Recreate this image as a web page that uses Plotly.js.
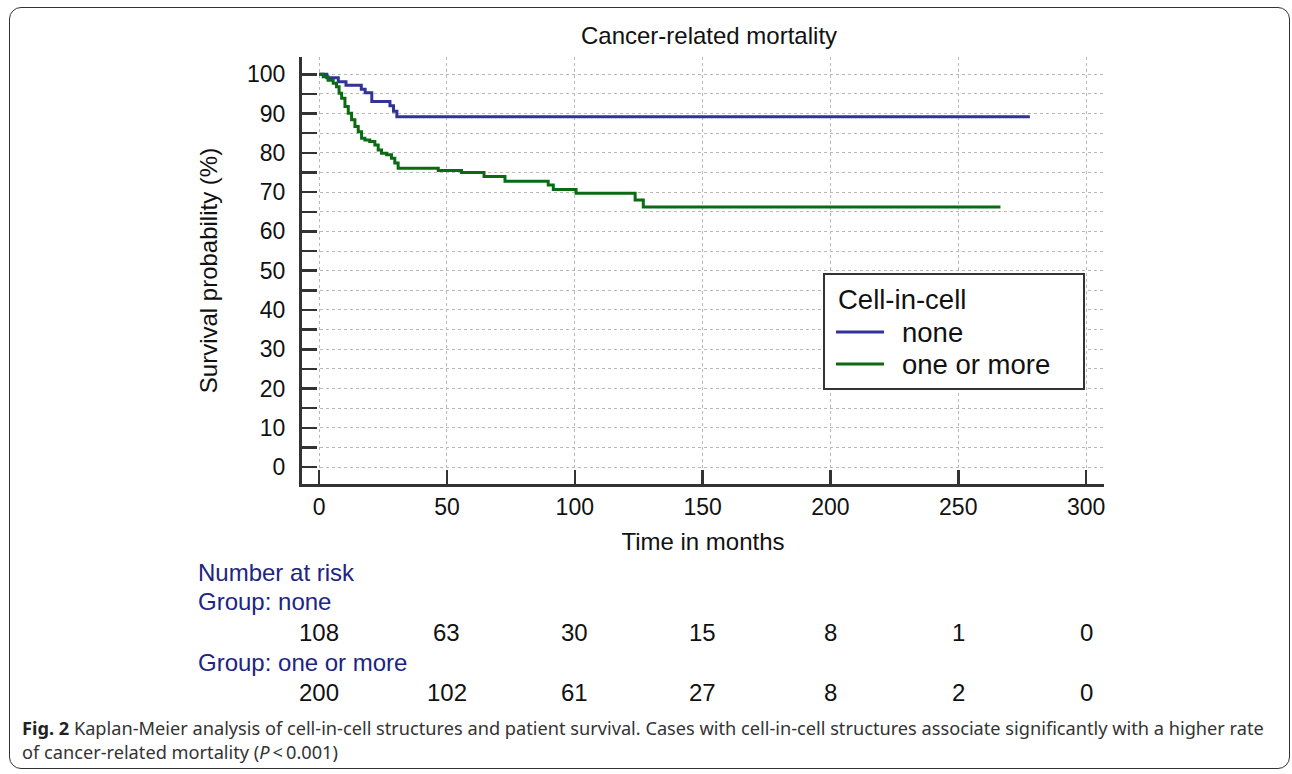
<!DOCTYPE html>
<html>
<head>
<meta charset="utf-8">
<script src="https://cdn.plot.ly/plotly-3.0.1.min.js"></script>
<style>
  html, body { margin:0; padding:0; background:#fff; width:1292px; height:774px; overflow:hidden; }
  #frame { position:absolute; left:9px; top:7px; width:1281px; height:762px; border:1.6px solid #333; border-radius:12px; box-sizing:border-box; pointer-events:none; }
  #chart { position:absolute; left:0; top:0; width:1292px; height:774px; }
  #caption { position:absolute; left:22px; top:716px; width:1266px; font-family:"Noto Sans", sans-serif; font-size:18.2px; line-height:24px; color:#333; white-space:nowrap; }
  #caption b { color:#222; }
</style>
</head>
<body>
<div id="chart"></div>
<div id="frame"></div>
<div id="caption"><b>Fig. 2</b> Kaplan-Meier analysis of cell-in-cell structures and patient survival. Cases with cell-in-cell structures associate significantly with a higher rate<br>of cancer-related mortality (<i>P</i>&thinsp;&lt;&thinsp;0.001)</div>
<script>
// Kaplan-Meier step data (months, survival %)
const noneTime = [0, 3, 7.5, 10.5, 16.5, 18, 20.6, 27.7, 29.1, 30.4, 278];
const noneSurv = [100, 99.1, 98.1, 97.2, 96.2, 95.3, 93.1, 92.0, 90.6, 89.2, 89.2];

const oneTime = [0, 1.6, 3.5, 5.5, 6.8, 7.8, 8.8, 10.1, 11.4, 12.7, 14.0, 15.3, 16.6, 17.9, 19.8, 21.8, 23.1, 24.4, 26.4, 28.3, 29.6, 30.9, 46.6, 55.7, 64.5, 72.7, 89.6, 91.6, 100.5, 123.6, 126.8, 266.5];
const oneSurv = [100, 99.4, 98.5, 97.7, 96.8, 95.2, 93.9, 91.8, 90.1, 88.4, 86.7, 85.4, 83.7, 83.3, 82.9, 82.0, 80.7, 79.9, 79.5, 78.6, 77.4, 76.1, 75.5, 75.0, 74.0, 72.8, 71.8, 70.7, 69.7, 68.0, 66.2, 66.2];

// Number at risk table
const riskTimes = [0, 50, 100, 150, 200, 250, 300];
const riskNone = [108, 63, 30, 15, 8, 1, 0];
const riskOne = [200, 102, 61, 27, 8, 2, 0];

const groupNames = ["none", "one or more"];
const legendTitle = "Cell-in-cell";
const yTickVals = [0, 10, 20, 30, 40, 50, 60, 70, 80, 90, 100];

const blue = "#31339a";
const green = "#0b6b12";
const navy = "#1d2483";
const FONT = "Liberation Sans, Arial, sans-serif";

const traces = [
  { x: noneTime, y: noneSurv, name: groupNames[0], mode: "lines", line: { shape: "hv", color: blue, width: 3 } },
  { x: oneTime, y: oneSurv, name: groupNames[1], mode: "lines", line: { shape: "hv", color: green, width: 3 } }
];

// pixel -> paper helpers for the plot area (302..1104 x 57..484)
const PL = 302, PW = 802, PB = 484, PH = 427;
const px = v => (v - PL) / PW;
const py = v => (PB - v) / PH;

const annotations = [];
const shapes = [];
const labelX = px(196);
const rowY = { header: py(572), g1: py(602), n1: py(632), g2: py(662), n2: py(692) };
annotations.push({ xref: "paper", yref: "paper", x: labelX, y: rowY.header, xanchor: "left", yanchor: "middle", text: "Number at risk", showarrow: false, font: { family: FONT, size: 24, color: navy } });
annotations.push({ xref: "paper", yref: "paper", x: labelX, y: rowY.g1, xanchor: "left", yanchor: "middle", text: "Group: " + groupNames[0], showarrow: false, font: { family: FONT, size: 24, color: navy } });
annotations.push({ xref: "paper", yref: "paper", x: labelX, y: rowY.g2, xanchor: "left", yanchor: "middle", text: "Group: " + groupNames[1], showarrow: false, font: { family: FONT, size: 24, color: navy } });
riskTimes.forEach((t, i) => {
  annotations.push({ xref: "x", yref: "paper", x: t, y: rowY.n1, xanchor: "center", yanchor: "middle", text: String(riskNone[i]), showarrow: false, font: { family: FONT, size: 24, color: "#111" } });
  annotations.push({ xref: "x", yref: "paper", x: t, y: rowY.n2, xanchor: "center", yanchor: "middle", text: String(riskOne[i]), showarrow: false, font: { family: FONT, size: 24, color: "#111" } });
});

// Legend box (drawn with shapes + annotations for exact spacing)
shapes.push({ type: "rect", xref: "paper", yref: "paper", x0: px(824), x1: px(1084), y0: py(389), y1: py(274), line: { color: "#333", width: 2 }, fillcolor: "#fff", layer: "above" });
annotations.push({ xref: "paper", yref: "paper", x: px(836), y: py(299), xanchor: "left", yanchor: "middle", text: legendTitle, showarrow: false, font: { family: FONT, size: 27.5, color: "#111" } });
const legendRows = [332, 364];
const legendColors = [blue, green];
groupNames.forEach((g, i) => {
  shapes.push({ type: "line", xref: "paper", yref: "paper", x0: px(836), x1: px(884), y0: py(legendRows[i]), y1: py(legendRows[i]), line: { color: legendColors[i], width: 3 }, layer: "above" });
  annotations.push({ xref: "paper", yref: "paper", x: px(900), y: py(legendRows[i]), xanchor: "left", yanchor: "middle", text: g, showarrow: false, font: { family: FONT, size: 27.5, color: "#111" } });
});

const layout = {
  width: 1292, height: 774,
  margin: { l: 302, r: 188, t: 57, b: 290, pad: 0 },
  paper_bgcolor: "rgba(0,0,0,0)", plot_bgcolor: "#fff",
  font: { family: FONT, color: "#111" },
  showlegend: false,
  title: { text: "Cancer-related mortality", xref: "container", yref: "container", x: 709 / 1292, y: 1 - 36 / 774, xanchor: "center", yanchor: "middle", font: { family: FONT, size: 24, color: "#111" } },
  xaxis: {
    range: [-6.7, 307], tickmode: "array", tickvals: riskTimes, ticktext: riskTimes.map(String),
    ticks: "inside", ticklen: 14, tickwidth: 2.5, tickcolor: "#333",
    showline: true, linewidth: 3, linecolor: "#333",
    showgrid: true, gridcolor: "#b8b8b8", griddash: "dot", gridwidth: 1, zeroline: false,
    tickfont: { family: FONT, size: 23, color: "#111" },
    title: { text: "Time in months", standoff: 15, font: { family: FONT, size: 24, color: "#111" } }
  },
  yaxis: {
    range: [-4.3, 104.4], tickmode: "array", tickvals: yTickVals, ticktext: yTickVals.map(String),
    ticks: "inside", ticklen: 15, tickwidth: 2.5, tickcolor: "#333",
    minor: { dtick: 5, tick0: 0, ticks: "inside", ticklen: 15, tickwidth: 2.5, tickcolor: "#333", showgrid: true, gridcolor: "#b8b8b8", griddash: "dot", gridwidth: 1 },
    showline: true, linewidth: 3, linecolor: "#333",
    showgrid: true, gridcolor: "#b8b8b8", griddash: "dot", gridwidth: 1, zeroline: false,
    tickfont: { family: FONT, size: 23, color: "#111" }, ticklabelstandoff: 9,
    title: { text: "Survival probability (%)", standoff: 23, font: { family: FONT, size: 24, color: "#111" } }
  },
  shapes: shapes,
  annotations: annotations
};

Plotly.newPlot("chart", traces, layout, { staticPlot: true, displayModeBar: false });
</script>
</body>
</html>
